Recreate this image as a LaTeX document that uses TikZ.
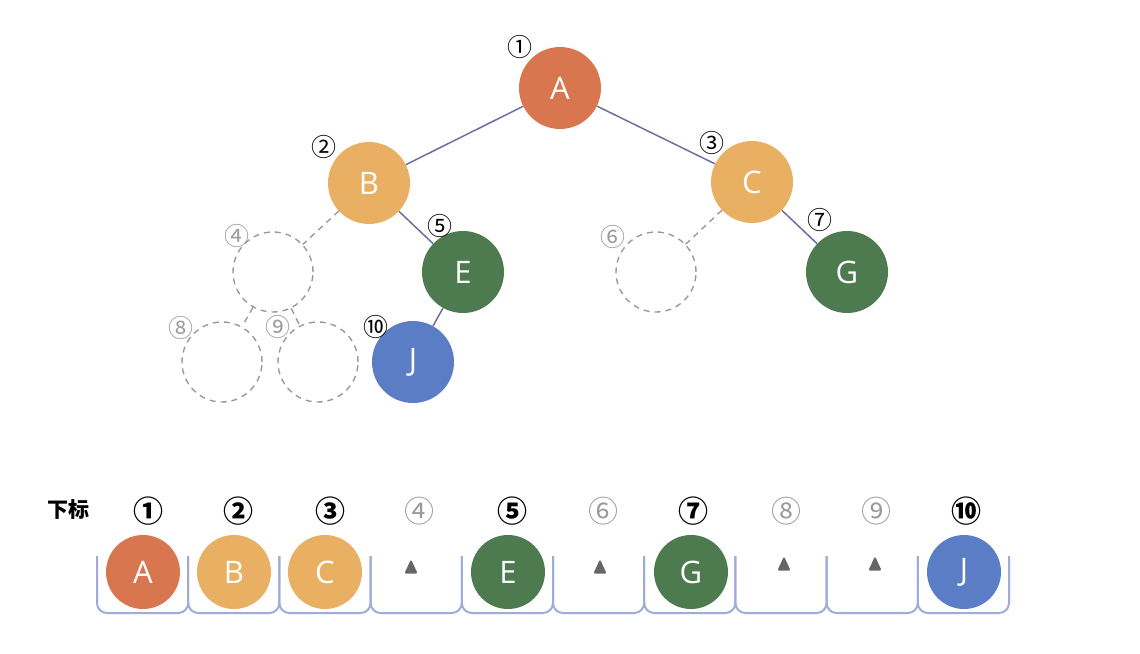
\documentclass[tikz,border=0pt]{standalone}
\usepackage{fontspec}
\setmainfont{Open Sans}
\newfontfamily\cjk{Noto Sans CJK SC}
\begin{document}
\definecolor{cA}{HTML}{D8774F}
\definecolor{cB}{HTML}{E9AF62}
\definecolor{cE}{HTML}{4E7A50}
\definecolor{cJ}{HTML}{5A7DC6}
\definecolor{edgec}{HTML}{6A70A2}
\definecolor{cellc}{HTML}{A0ABD9}
\definecolor{emptyc}{HTML}{9A9A9A}
\begin{tikzpicture}[x=1pt,y=-1pt,
  ball/.style={circle,minimum size=82pt,inner sep=0pt,text=white,
    font=\fontsize{31}{31}\selectfont},
  sball/.style={ball,minimum size=74pt},
  hole/.style={circle,minimum size=80pt,inner sep=0pt,draw=emptyc,dashed,
    line width=1.4pt,dash pattern=on 6pt off 5pt},
  tie/.style={draw=edgec,line width=1.5pt},
  gap/.style={draw=emptyc,line width=1.4pt,dash pattern=on 6pt off 5pt},
  idx/.style={font=\cjk\fontsize{25}{25}\selectfont,text=black},
  idxx/.style={font=\cjk\fontsize{25}{25}\selectfont,text=emptyc},
  bidx/.style={font=\cjk\bfseries\fontsize{30}{30}\selectfont,text=black},
  bidxx/.style={font=\cjk\fontsize{30}{30}\selectfont,text=emptyc},
  cell/.style={draw=cellc,line width=2pt,rounded corners=10pt},
  caret/.style={draw=black!60,fill=black!60,line width=2pt,line join=round}]
\useasboundingbox (0,0) rectangle (1140,653);

% tree nodes
\node[ball,fill=cA] (A) at (560,88) {A};
\node[ball,fill=cB] (B) at (369,183) {B};
\node[ball,fill=cB] (C) at (752,182) {C};
\node[ball,fill=cE] (E) at (463,272) {E};
\node[ball,fill=cE] (G) at (847,272) {G};
\node[ball,fill=cJ] (J) at (413,362) {J};
\node[hole] (n4) at (273,272) {};
\node[hole] (n6) at (656,272) {};
\node[hole] (n8) at (222,362) {};
\node[hole] (n9) at (318,362) {};

% tree edges
\draw[tie] (A) -- (B);
\draw[tie] (A) -- (C);
\draw[tie] (B) -- (E);
\draw[tie] (C) -- (G);
\draw[tie] (E) -- (J);
\draw[gap] (B) -- (n4);
\draw[gap] (C) -- (n6);
\draw[gap] (n4) -- (n8);
\draw[gap] (n4) -- (n9);

% position numbers in the tree
\node[idx] (l1) at (520,47) {①};
\node[idx] (l2) at (324,147) {②};
\node[idx] (l3) at (712,143) {③};
\node[idxx] (l4) at (237,236) {④};
\node[idx] (l5) at (440,226) {⑤};
\node[idxx] (l6) at (613,237) {⑥};
\node[idx] (l7) at (820,220) {⑦};
\node[idxx] (l8) at (181,328) {⑧};
\node[idxx] (l9) at (278,327) {⑨};
\node[idx] (l10) at (376,327) {⑩};

% array row
\node[font=\cjk\bfseries\fontsize{21}{21}\selectfont] (head) at (68,510) {下标};

\foreach \i in {0,...,9} {
  \pgfmathsetmacro{\xl}{97+91.2*\i}
  \pgfmathsetmacro{\xr}{97+91.2*(\i+1)}
  \draw[cell] (\xl,556) -- (\xl,613) -- (\xr,613) -- (\xr,556);
}

\node[bidx] (i1) at (148,511) {①};
\node[bidx] (i2) at (238,511) {②};
\node[bidx] (i3) at (330,511) {③};
\node[bidxx] (i4) at (419,511) {④};
\node[bidx] (i5) at (512,511) {⑤};
\node[bidxx] (i6) at (603,511) {⑥};
\node[bidx] (i7) at (693,511) {⑦};
\node[bidxx] (i8) at (786,511) {⑧};
\node[bidxx] (i9) at (876,511) {⑨};
\node[bidx] (i10) at (966,511) {⑩};

\node[sball,fill=cA] (a1) at (143,572) {A};
\node[sball,fill=cB] (a2) at (234,572) {B};
\node[sball,fill=cB] (a3) at (325,572) {C};
\node[sball,fill=cE] (a5) at (508,572) {E};
\node[sball,fill=cE] (a7) at (691,572) {G};
\node[sball,fill=cJ] (a10) at (964,572) {J};

% empty slots
\foreach \x/\y in {411/567,600/567,784/564,875/564} {
  \draw[caret] (\x-5,\y+5.5) -- (\x,\y-5.5) -- (\x+5,\y+5.5) -- cycle;
}
\end{tikzpicture}
\end{document}
